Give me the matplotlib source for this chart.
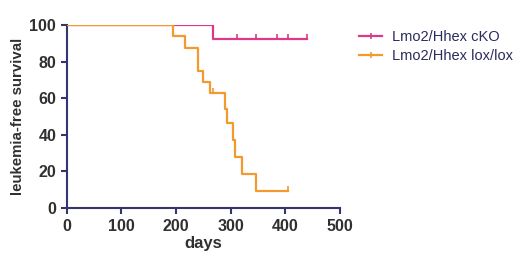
import matplotlib
matplotlib.use("Agg")
import matplotlib.pyplot as plt
from matplotlib.lines import Line2D

plt.rcParams['font.family'] = ['Liberation Sans', 'DejaVu Sans']

# cKO series
cko_times = [0, 268, 439]
cko_surv = [100, 92.3, 92.3]
cko_cens_t = [192, 218, 311, 347, 384, 405, 439]
cko_cens_s = [100, 100, 92.3, 92.3, 92.3, 92.3, 92.3]

# lox/lox series
lox_times = [0, 195, 216, 241, 250, 262, 290, 294, 305, 307, 320, 346, 405]
lox_surv = [100, 93.75, 87.5, 75, 68.75, 62.5, 54.0, 46.3, 37.0, 27.8, 18.5, 9.3, 9.3]
lox_cens_t = [268, 405]
lox_cens_s = [62.5, 9.3]

labels = ["Lmo2/Hhex cKO", "Lmo2/Hhex lox/lox"]
xticks = [0, 100, 200, 300, 400, 500]
yticks = [0, 20, 40, 60, 80, 100]

pink = '#dc3a86'
orange = '#f29a2e'
navy = '#34346e'
txt = '#303030'

up_tick = [(0, 0), (0, 1)]

fig = plt.figure(figsize=(5.2, 2.64), dpi=100)
ax = fig.add_axes([0.128, 0.214, 0.526, 0.691])

ax.step(cko_times, cko_surv, where='post', color=pink, lw=1.6, zorder=2)
ax.step(lox_times, lox_surv, where='post', color=orange, lw=1.6, zorder=3)
ax.plot(cko_cens_t, cko_cens_s, ls='none', marker=up_tick, ms=7, mew=1.2, color=pink, zorder=4)
ax.plot(lox_cens_t, lox_cens_s, ls='none', marker=up_tick, ms=7, mew=1.2, color=orange, zorder=4)

ax.set_xlim(0, 500)
ax.set_ylim(0, 100)
ax.set_xticks(xticks)
ax.set_yticks(yticks)
for s in ['top', 'right']:
    ax.spines[s].set_visible(False)
for s in ['left', 'bottom']:
    ax.spines[s].set_color(navy)
    ax.spines[s].set_linewidth(1.5)
ax.tick_params(axis='both', colors=navy, width=1.5, length=4, direction='out',
               labelsize=11.5, labelcolor=txt)
ax.tick_params(axis='x', pad=4.5)
for lab in ax.get_xticklabels() + ax.get_yticklabels():
    lab.set_fontweight('bold')
ax.set_xlabel('days', fontsize=12, fontweight='bold', color=txt, labelpad=1)
ax.set_ylabel('leukemia-free survival', fontsize=10.8, fontweight='bold', color=txt, labelpad=3)

handles = [Line2D([0], [0], color=pink, lw=1.6, marker='|', ms=4, mew=1.2),
           Line2D([0], [0], color=orange, lw=1.6, marker='|', ms=4, mew=1.2)]
leg = fig.legend(handles, labels, loc='upper left', bbox_to_anchor=(0.665, 0.935),
                 frameon=False, fontsize=10.5, handlelength=1.6, handletextpad=0.7,
                 labelspacing=0.3)
for t in leg.get_texts():
    t.set_color('#2b2b5e')

fig.savefig('out.png', dpi=100)
